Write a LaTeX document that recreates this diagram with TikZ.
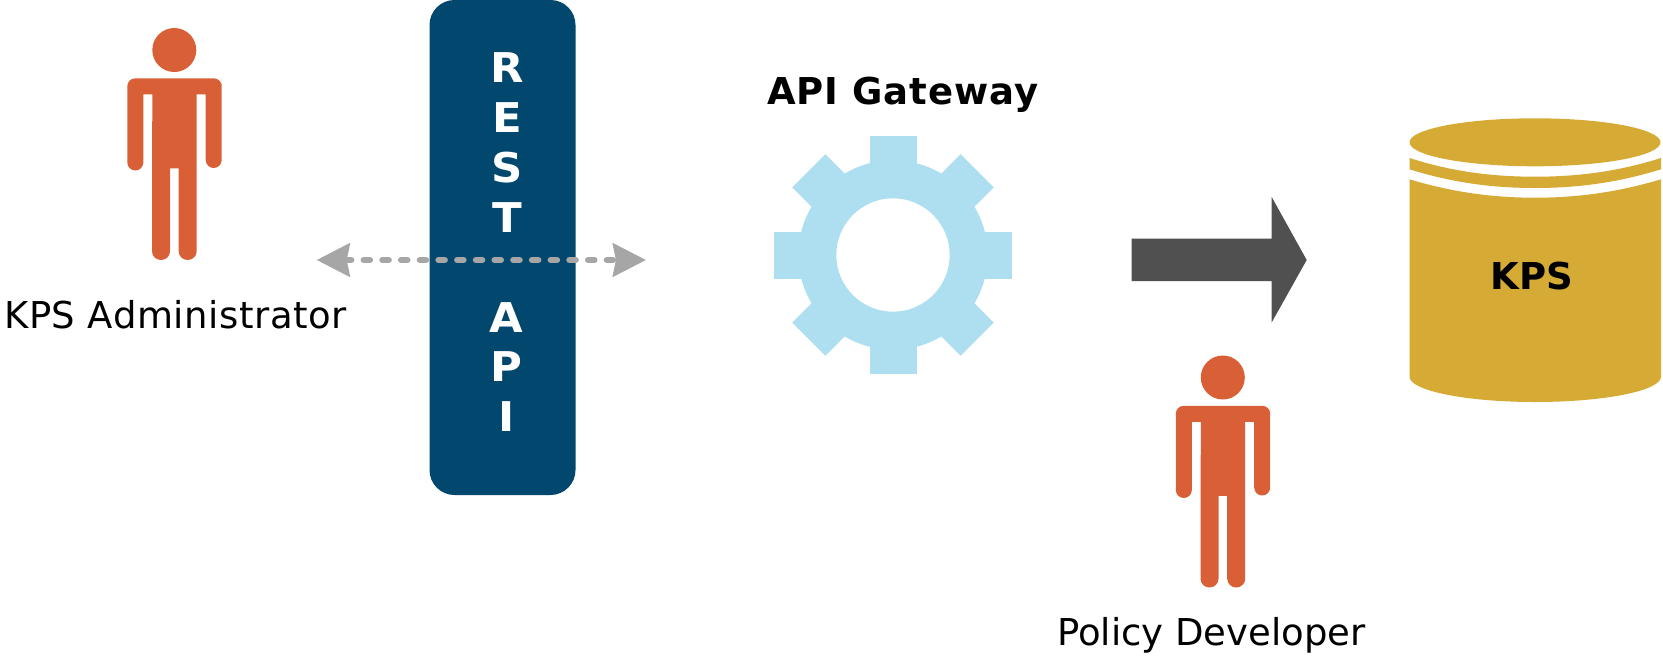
\documentclass[tikz,border=0pt]{standalone}
\usepackage{fontspec}
\setmainfont{DejaVu Sans}
\usetikzlibrary{arrows.meta}
\definecolor{personc}{HTML}{D95F36}
\definecolor{apic}{HTML}{02476E}
\definecolor{gearc}{HTML}{ADDFF1}
\definecolor{dbc}{HTML}{D6AB35}
\definecolor{linkc}{HTML}{A6A6A6}
\definecolor{bigc}{HTML}{505050}
\tikzset{
  x=1pt,y=-1pt,
  labeltext/.style={font=\fontsize{37}{37}\selectfont,anchor=base west,inner sep=0pt,text=black},
  boldtext/.style={font=\fontsize{37}{37}\selectfont\bfseries,inner sep=0pt,text=black},
  apibox/.style={fill=apic,draw=none,rounded corners=25pt,minimum width=146pt,minimum height=495pt,inner sep=0pt},
  aletter/.style={font=\fontsize{41}{41}\selectfont\bfseries\addfontfeature{FakeStretch=1.06},text=white,anchor=base,inner sep=0pt},
  link/.style={draw=linkc,line width=6.4pt,line cap=round,dash pattern=on 6.2pt off 12.5pt,
     {Stealth[length=33pt,width=33pt,inset=3pt,color=linkc]}-{Stealth[length=33pt,width=33pt,inset=3pt,color=linkc]}},
  personfig/.pic={
    \fill[personc] (0,-210) circle[radius=22];
    \fill[personc]
      (-47,-173.7) [rounded corners=8pt] -- (-47,-181.7) -- (47.4,-181.7) -- (47.4,-173.7) [sharp corners]
      -- (47.4,-100) arc[start angle=0,end angle=180,radius=8] -- (31.4,-165.7) -- (22.4,-165.7)
      -- (22.4,-8.7) arc[start angle=0,end angle=180,x radius=9,y radius=8.7] -- (4.4,-91.7) -- (-4.3,-91.7)
      -- (-4.3,-8.7) arc[start angle=0,end angle=180,x radius=9,y radius=8.7] -- (-22,-165.7) -- (-31,-165.7)
      -- (-31,-97.5) arc[start angle=0,end angle=180,radius=8] -- cycle;
  }
}
\begin{document}
\begin{tikzpicture}
\useasboundingbox (0,0) rectangle (1663,656);
% persons
\pic at (174.3,260) {personfig};
\pic at (1222.8,587.5) {personfig};
\node[labeltext] (admin) at (4,328) {\addfontfeature{LetterSpace=1.6}KPS Administrator};
\node[labeltext] (dev) at (1057,645) {Policy Developer};
% REST API
\node[apibox] (api) at (502.5,247.5) {};
\node[aletter] (lR) at (507.5,82.7) {R};
\node[aletter] (lE) at (507.5,132.7) {E};
\node[aletter] (lS) at (507.5,182.2) {S};
\node[aletter] (lT) at (507.5,232.7) {T};
\node[aletter] (lA) at (506.5,332) {A};
\node[aletter] (lP) at (506.5,381.7) {P};
\node[aletter] (lI) at (506.5,431.7) {I};
% connector
\coordinate (aL) at (316.7,260);
\coordinate (aR) at (646,260);
\draw[link] (aL) -- (aR);
% gear
\coordinate (gc) at (893,255);
\foreach \a in {0,45,...,315}
  \fill[gearc,rotate around={\a:(gc)}] (869.5,136) rectangle (916.5,170);
\fill[gearc,even odd rule] (gc) circle[radius=94.7] (gc) circle[radius=56.7];
\node[boldtext,anchor=base west] (gw) at (767,104) {\addfontfeature{LetterSpace=2.5}API Gateway};
% big arrow
\coordinate (bL) at (1131.7,260);
\coordinate (bR) at (1306.7,260);
\fill[bigc] (1131.7,238.6) -- (1271.7,238.6) -- (1271.7,197) -- (bR) -- (1271.7,322.4) -- (1271.7,281) -- (1131.7,281) -- cycle;
% database
\fill[dbc] (1535,142.3) ellipse[x radius=125.5,y radius=24];
\fill[dbc] (1409.5,158) .. controls (1450,171) and (1490,176.7) .. (1535,176.7)
   .. controls (1580,176.7) and (1620,171) .. (1661,158)
   -- (1661,169.3) .. controls (1620,182) and (1580,188) .. (1535,188)
   .. controls (1490,188) and (1450,182) .. (1409.5,169.3) -- cycle;
\fill[dbc] (1409.5,179.3) .. controls (1450,191.5) and (1490,197.7) .. (1535,197.7)
   .. controls (1580,197.7) and (1620,191.5) .. (1661,179.3)
   -- (1661,376.7) arc[start angle=0,end angle=180,x radius=125.75,y radius=25.3] -- cycle;
\node[boldtext] (kps) at (1532,275.7) {KPS};
\end{tikzpicture}
\end{document}
